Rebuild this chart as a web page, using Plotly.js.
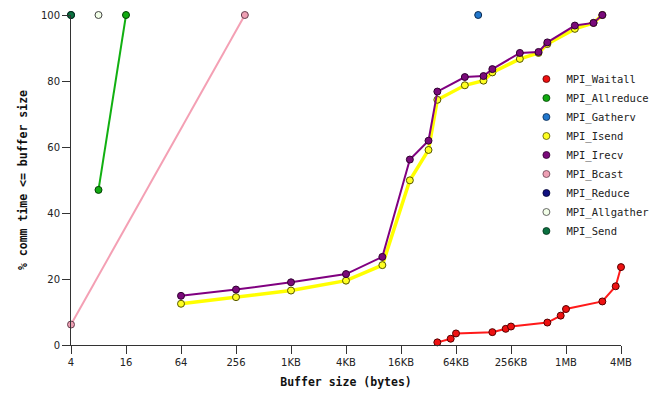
<!DOCTYPE html>
<html>
<head>
<meta charset="utf-8">
<script src="https://cdn.plot.ly/plotly-3.0.1.min.js"></script>
<style>html,body{margin:0;padding:0;background:#fff;}#chart{width:659px;height:399px;}</style>
</head>
<body>
<div id="chart"></div>
<script>
// ---- data ----
const seriesNames = ['MPI_Waitall','MPI_Allreduce','MPI_Gatherv','MPI_Isend','MPI_Irecv','MPI_Bcast','MPI_Reduce','MPI_Allgather','MPI_Send'];

const waitallX = [40960, 57344, 65536, 163840, 229376, 262144, 655360, 917504, 1048576, 2621440, 3670016, 4194304];
const waitallY = [0.8, 1.9, 3.5, 3.9, 4.9, 5.6, 6.8, 8.9, 10.9, 13.2, 17.8, 23.6];

const allreduceX = [8, 16];
const allreduceY = [47, 100];

const gathervX = [114688];
const gathervY = [100];

const isendX = [64, 256, 1024, 4096, 10240, 20480, 32768, 40960, 81920, 131072, 163840, 327680, 524288, 655360, 1310720, 2097152, 2621440];
const isendY = [12.5, 14.5, 16.5, 19.5, 24.2, 49.9, 59.1, 74.3, 78.7, 80.1, 82.6, 86.7, 88.5, 91.2, 95.8, 97.6, 100];

const irecvX = [64, 256, 1024, 4096, 10240, 20480, 32768, 40960, 81920, 131072, 163840, 327680, 524288, 655360, 1310720, 2097152, 2621440];
const irecvY = [14.9, 16.8, 19.0, 21.5, 26.7, 56.2, 61.9, 76.8, 81.2, 81.5, 83.6, 88.5, 88.8, 91.7, 96.8, 97.6, 100];

const bcastX = [4, 320];
const bcastY = [6.2, 100];

const reduceX = [4];
const reduceY = [100];

const allgatherX = [8];
const allgatherY = [100];

const sendX = [4];
const sendY = [100];

const xTickVals = [4, 16, 64, 256, 1024, 4096, 16384, 65536, 262144, 1048576, 4194304];
const xTickText = ['4', '16', '64', '256', '1KB', '4KB', '16KB', '64KB', '256KB', '1MB', '4MB'];
const yTickVals = [0, 20, 40, 60, 80, 100];

// ---- styles ----
const styles = [
  {fill:'#ee1111', line:'#ff1a1a', edge:'#550000', lw:2},
  {fill:'#11aa11', line:'#11b011', edge:'#034003', lw:2},
  {fill:'#2277cc', line:'#2277cc', edge:'#0a2a50', lw:2},
  {fill:'#ffff22', line:'#ffff00', edge:'#555500', lw:3.5},
  {fill:'#7a0a7a', line:'#800080', edge:'#300030', lw:2},
  {fill:'#eea0b4', line:'#f4a0b4', edge:'#664050', lw:2},
  {fill:'#101080', line:'#101080', edge:'#000030', lw:2},
  {fill:'#f2ffe8', line:'#d0f0c0', edge:'#444444', lw:2},
  {fill:'#0b7040', line:'#0b7040', edge:'#023018', lw:2}
];
const xs = [waitallX, allreduceX, gathervX, isendX, irecvX, bcastX, reduceX, allgatherX, sendX];
const ys = [waitallY, allreduceY, gathervY, isendY, irecvY, bcastY, reduceY, allgatherY, sendY];

const traces = [];
seriesNames.forEach((n, i) => {
  const s = styles[i];
  traces.push({
    x: xs[i], y: ys[i], type: 'scatter', mode: 'lines+markers', name: n,
    showlegend: false, cliponaxis: false,
    line: {color: s.line, width: s.lw},
    marker: {size: 7, color: s.fill, line: {color: s.edge, width: 1}}
  });
});
seriesNames.forEach((n, i) => {
  const s = styles[i];
  traces.push({
    x: [null], y: [null], type: 'scatter', mode: 'markers', name: n,
    showlegend: true,
    marker: {size: 7, color: s.fill, line: {color: s.edge, width: 0.8}}
  });
});

const layout = {
  width: 659, height: 399,
  margin: {l: 71, r: 38, t: 15, b: 54, autoexpand: false},
  paper_bgcolor: '#fff', plot_bgcolor: '#fff',
  showlegend: true,
  legend: {
    x: 0.828, y: 0.85, xanchor: 'left', yanchor: 'top',
    bgcolor: 'rgba(255,255,255,0)',
    font: {family: 'DejaVu Sans Mono', size: 10.5, color: '#222'},
    tracegroupgap: 0
  },
  xaxis: {
    type: 'log',
    range: [Math.log10(4) - 1e-5, Math.log10(4194304) + 1e-5],
    tickmode: 'array', tickvals: xTickVals, ticktext: xTickText,
    ticks: 'outside', ticklen: 8, tickcolor: '#333', tickwidth: 1,
    showline: true, linecolor: '#333', linewidth: 1,
    showgrid: false, zeroline: false, automargin: false,
    tickfont: {family: 'DejaVu Sans', size: 10, color: '#222'},
    title: {text: 'Buffer size (bytes)', font: {family: 'DejaVu Sans Mono', size: 11.5, color: '#111', weight: 'bold'}, standoff: 10}
  },
  yaxis: {
    range: [-1e-3, 100.001],
    tickmode: 'array', tickvals: yTickVals,
    ticks: 'outside', ticklen: 8, tickcolor: '#333', tickwidth: 1,
    showline: true, linecolor: '#333', linewidth: 1,
    showgrid: false, zeroline: false, automargin: false,
    tickfont: {family: 'DejaVu Sans', size: 10, color: '#222'},
    title: {text: '% comm time <= buffer size', font: {family: 'DejaVu Sans Mono', size: 11.5, color: '#111', weight: 'bold'}, standoff: 10}
  }
};

Plotly.newPlot('chart', traces, layout, {staticPlot: true, displayModeBar: false});
</script>
</body>
</html>
